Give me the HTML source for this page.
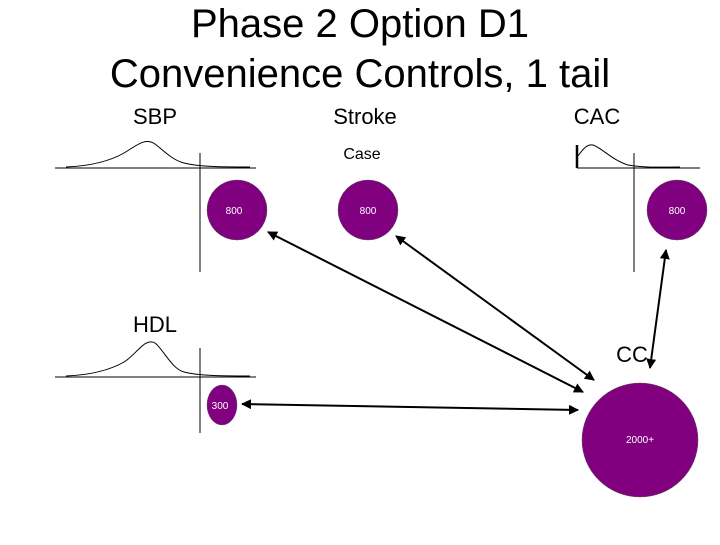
<!DOCTYPE html>
<html><head><style>
body{margin:0;width:720px;height:540px;background:#fff;overflow:hidden;font-family:"Liberation Sans",sans-serif}
</style></head><body>
<svg width="720" height="540" xmlns="http://www.w3.org/2000/svg" font-family="Liberation Sans, sans-serif">
<defs>
<marker id="a" viewBox="0 0 10 10" refX="9" refY="5" markerWidth="5" markerHeight="5" orient="auto-start-reverse"><path d="M0,0L10,5L0,10z" fill="#000"/></marker>
</defs>
<text x="360" y="37" font-size="40" text-anchor="middle">Phase 2 Option D1</text>
<text x="360" y="87" font-size="40" text-anchor="middle">Convenience Controls, 1 tail</text>
<text x="155" y="124" font-size="22" text-anchor="middle">SBP</text>
<text x="365" y="124" font-size="22" text-anchor="middle">Stroke</text>
<text x="597" y="124" font-size="22" text-anchor="middle">CAC</text>
<text x="362" y="159" font-size="16" text-anchor="middle">Case</text>
<text x="155" y="332" font-size="22" text-anchor="middle">HDL</text>
<text x="632" y="362" font-size="22" text-anchor="middle">CC</text>
<g fill="none" stroke="#000" stroke-width="1">
<line x1="55" y1="168" x2="256" y2="168"/>
<path d="M66,167 C90,166 110,161 124,153 C136,146 145,137 155,144 C163,150 172,160 184,163 C200,167 225,167 250,167"/>
<line x1="200" y1="153" x2="200" y2="272"/>
<line x1="55" y1="377" x2="256" y2="377"/>
<path d="M66,376 C90,375 110,370 124,362 C136,355 145,337 155,343 C163,349 172,369 184,372 C200,376 225,376 250,376"/>
<line x1="200" y1="348" x2="200" y2="433"/>
<line x1="577" y1="168" x2="700" y2="168"/>
<path d="M578,156 C583,149 587,144 593,145 C602,148 612,160 628,165 C645,168 662,167 680,167"/>
<line x1="634" y1="153" x2="634" y2="272"/>
</g>
<line x1="577" y1="145" x2="577" y2="168" stroke="#000" stroke-width="2.5"/>
<g fill="#800080" stroke="#555" stroke-width="0.5">
<ellipse cx="237" cy="210" rx="30" ry="30"/>
<ellipse cx="368" cy="210" rx="30" ry="30"/>
<ellipse cx="677" cy="210" rx="30" ry="30"/>
<ellipse cx="222" cy="405" rx="15" ry="20"/>
<ellipse cx="640" cy="440" rx="58" ry="57"/>
</g>
<g fill="#fff" font-size="10" text-anchor="middle">
<text x="234" y="214">800</text><text x="368" y="214">800</text><text x="677" y="214">800</text>
<text x="220" y="409">300</text><text x="640" y="443">2000+</text>
</g>
<g stroke="#000" stroke-width="2" marker-start="url(#a)" marker-end="url(#a)">
<line x1="268" y1="232" x2="583" y2="392"/>
<line x1="396" y1="236" x2="594" y2="380"/>
<line x1="666" y1="250" x2="650" y2="368"/>
<line x1="242" y1="404" x2="578" y2="410"/>
</g>
</svg>
</body></html>
